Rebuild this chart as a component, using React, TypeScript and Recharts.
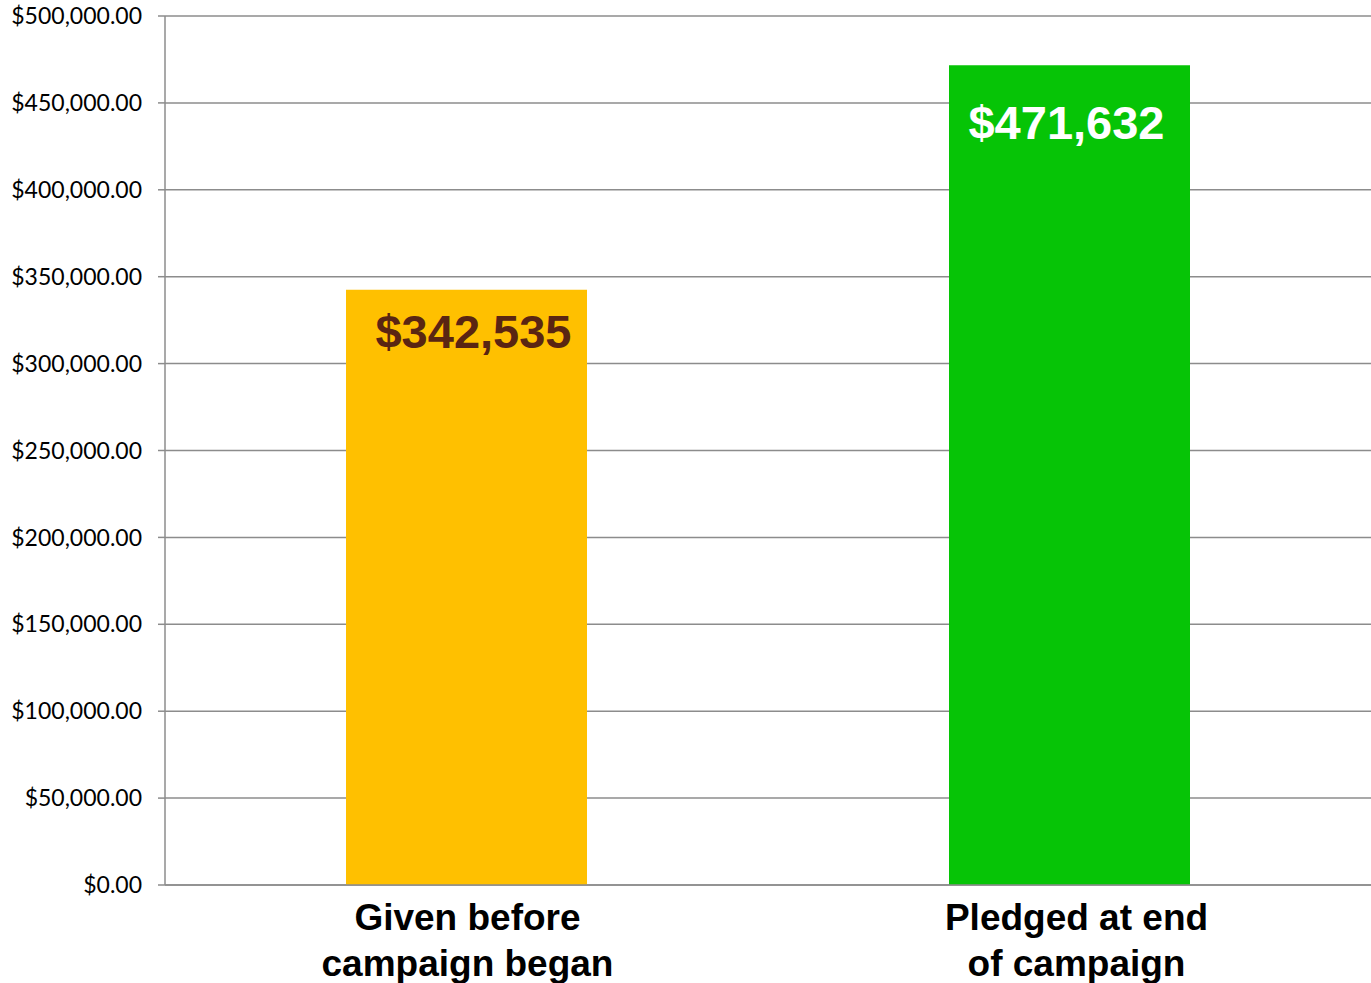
import { Bar, BarChart, CartesianGrid, Cell, LabelList, XAxis, YAxis } from "recharts"

const categories = ["Given before campaign began", "Pledged at end of campaign"]
const categoryLines = [
    ["Given before", "campaign began"],
    ["Pledged at end", "of campaign"],
]
const amounts = [342535, 471632]
const valueLabels = ["$342,535", "$471,632"]
const yTicks = [0, 50000, 100000, 150000, 200000, 250000, 300000, 350000, 400000, 450000, 500000]

const barColors = ["#FFC000", "#06C406"]
const labelColors = ["#5A2512", "#FFFFFF"]
const labelOffsets = [42, 57]
const labelShiftX = [7, -3]
const tickShiftX = [1, 7]

const data = categories.map((name, i) => ({ name, value: amounts[i], idx: i }))

const fmtMoney = (v: number) =>
    "$" + v.toLocaleString("en-US", { minimumFractionDigits: 2, maximumFractionDigits: 2 })

function CategoryTick(props: any) {
    const { x, y, index } = props
    const lines = categoryLines[index] || []
    return (
        <g>
            {lines.map((t, i) => (
                <text
                    key={i}
                    x={x + (tickShiftX[index] || 0)}
                    y={y + 37 + i * 46}
                    textAnchor="middle"
                    fontFamily="'Liberation Sans', Arial, sans-serif"
                    fontWeight="bold"
                    fontSize={37}
                    fill="#000"
                >
                    {t}
                </text>
            ))}
        </g>
    )
}

function ValueLabel(props: any) {
    const { x, y, width, index } = props
    return (
        <text
            x={x + width / 2 + labelShiftX[index]}
            y={y + labelOffsets[index]}
            textAnchor="middle"
            dominantBaseline="central"
            fontFamily="'Liberation Sans', Arial, sans-serif"
            fontWeight="bold"
            fontSize={47}
            fill={labelColors[index]}
        >
            {valueLabels[index]}
        </text>
    )
}

export default function App() {
    return (
        <div style={{ position: "absolute", left: 0, top: 0, width: 1371, height: 983, background: "#fff" }}>
            <BarChart
                width={1371}
                height={983}
                data={data}
                margin={{ top: 16, right: 0, left: 0, bottom: 0 }}
                barSize={241}
            >
                <CartesianGrid vertical={false} stroke="#8c8c8c" strokeWidth={1.5} />
                <XAxis
                    dataKey="name"
                    axisLine={{ stroke: "#8c8c8c", strokeWidth: 1.5 }}
                    tickLine={false}
                    tick={<CategoryTick />}
                    interval={0}
                    height={98}
                />
                <YAxis
                    width={165}
                    domain={[0, 500000]}
                    ticks={yTicks}
                    tickFormatter={fmtMoney}
                    axisLine={{ stroke: "#8c8c8c", strokeWidth: 1.5 }}
                    tickLine={{ stroke: "#8c8c8c", strokeWidth: 1.5 }}
                    tickSize={7}
                    tickMargin={16}
                    tick={{ fill: "#000", fontSize: 23, fontFamily: "Lato, 'Open Sans', sans-serif" }}
                />
                <Bar dataKey="value" isAnimationActive={false}>
                    {data.map((d, i) => (
                        <Cell key={d.name} fill={barColors[i]} />
                    ))}
                    <LabelList dataKey="value" content={<ValueLabel />} />
                </Bar>
            </BarChart>
        </div>
    )
}
